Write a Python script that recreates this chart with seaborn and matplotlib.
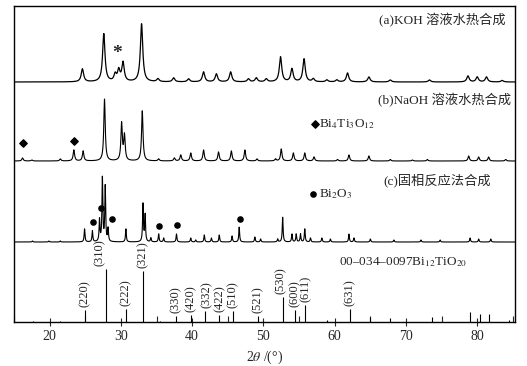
import numpy as np
import pandas as pd
import matplotlib
matplotlib.use("Agg")
import matplotlib.pyplot as plt
import seaborn as sns

sns.set_style("ticks")
plt.rcParams['font.family'] = ['Liberation Serif', 'Noto Sans CJK SC', 'DejaVu Sans']
plt.rcParams['mathtext.fontset'] = 'stix'

# peak positions (2theta) and heights
koh_pos = [24.6, 27.6, 29.2, 29.7, 30.3, 32.9, 35.2, 37.4, 39.5, 41.6, 43.4, 45.4, 47.9, 49.0, 50.4,
           52.4, 54.0, 55.7, 57.0, 58.9, 60.3, 61.8, 64.8, 67.8, 73.3, 78.7, 80.0, 81.3, 83.5]
koh_h = [13, 48, 7, 11, 19, 58, 3, 4, 3, 10, 8, 10, 3, 4, 3,
         25, 13, 23, 3, 2, 2, 9, 5, 2, 2, 6, 5, 5, 1.5]

naoh_pos = [16.2, 17.5, 21.5, 23.4, 24.7, 27.7, 30.1, 30.5, 33.0, 35.3, 37.5, 38.4, 39.8, 41.6, 43.7,
            45.5, 47.4, 49.1, 51.7, 52.5, 54.2, 55.8, 57.1, 60.4, 62.0, 64.8, 67.8, 70.9, 73.0,
            78.8, 80.2, 81.6, 84.0]
naoh_h = [3, 1, 2, 11, 10, 62, 37, 25, 50, 2, 3, 6, 8, 11, 9,
          10, 11, 2, 2, 12, 8, 8, 4, 1.5, 6, 5, 1.5, 1, 1.5,
          5, 4, 4, 1.5]

solid_pos = [17.6, 19.9, 21.5, 24.9, 26.0, 27.0, 27.4, 27.8, 28.2, 30.7, 33.1, 33.4, 34.2, 35.3, 36.0,
             37.8, 39.8, 40.5, 41.7, 42.7, 43.8, 45.6, 46.6, 48.8, 49.6, 52.0, 52.7, 54.0, 54.6,
             55.2, 55.8, 56.6, 58.2, 59.4, 62.0, 62.7, 65.0, 68.3, 72.1, 74.8, 79.0, 80.2, 81.9]
solid_h = [1, 1, 1, 13, 11, 22, 64, 55, 13, 13, 38, 27, 4, 8, 4,
           8, 4, 2, 7, 4, 7, 6, 15, 5, 3, 3, 25, 8, 8,
           8, 13, 4, 4, 3, 8, 4, 3, 2, 2, 2, 4, 3, 3]

# PDF 00-034-0097 Bi12TiO20 sticks
ref_pos = [24.9, 27.9, 30.7, 33.1, 37.7, 39.8, 41.8, 43.7, 45.7, 49.2, 52.7, 54.4, 55.9, 62.1]
ref_h = [12, 53, 13, 51, 6, 7, 11, 7, 11, 6, 25, 12, 17, 13]
ref_hkl = ['(220)', '(310)', '(222)', '(321)', '(330)', '(420)', '(332)', '(422)', '(510)',
           '(521)', '(530)', '(600)', '(611)', '(631)']
ref_label_dx = [0, -0.8, 0, 0, 0, 0, 0.2, 0.2, 0, 0, -0.2, 0, 0, 0]
ref_minor_pos = [17.6, 21.5, 35.5, 58.9, 65.0, 67.8, 73.7, 79.0, 80.4, 81.6, 84.4]
ref_minor_h = [1, 1, 1, 2, 5, 4, 5, 10, 8, 8, 2]

# phase markers
bto_pos = [16.2, 23.4]
bto_y = [179, 181]
bio_pos = [26.1, 27.2, 28.7, 35.4, 37.9, 46.7]
bio_y = [100, 114, 103, 96, 97, 103]

offsets = {'a': 240, 'b': 161, 'c': 80}
widths = {'a': 0.2, 'b': 0.12, 'c': 0.07}
line_w = {'a': 0.9, 'b': 0.8, 'c': 0.8}

two_theta = np.linspace(15, 85.3, 4000)


def profile(pos, h, hw):
    y = np.zeros_like(two_theta)
    for p, a in zip(pos, h):
        y += a / (1 + ((two_theta - p) / hw) ** 2)
    return y


fig = plt.figure(figsize=(5.27, 3.66), dpi=100)
ax = fig.add_axes([14 / 527, 1 - 322 / 366, 501 / 527, 316 / 366])

for key, pos, h in [('a', koh_pos, koh_h), ('b', naoh_pos, naoh_h), ('c', solid_pos, solid_h)]:
    df = pd.DataFrame({'tt': two_theta, 'I': profile(pos, h, widths[key]) + offsets[key]})
    sns.lineplot(x='tt', y='I', data=df, ax=ax, color='black', linewidth=line_w[key], estimator=None)

ax.vlines(ref_pos, 0, ref_h, color='black', linewidth=0.8)
ax.vlines(ref_minor_pos, 0, ref_minor_h, color='black', linewidth=0.8)
for p, h, lab, dx in zip(ref_pos, ref_h, ref_hkl, ref_label_dx):
    ax.text(p + dx, h + 3, lab, rotation=90, ha='center', va='bottom', fontsize=9)

ax.scatter(bto_pos, bto_y, marker='D', s=14, color='black', zorder=3)
ax.scatter(bio_pos, bio_y, marker='o', s=14, color='black', zorder=3)
ax.text(29.4, 268, '*', fontsize=14, ha='center', va='center', fontweight='bold')

# legends / labels
ax.scatter([57.2], [198], marker='D', s=14, color='black')
ax.text(57.8, 198, 'Bi$_4$Ti$_3$O$_{12}$', fontsize=9.5, va='center')
ax.scatter([57.0], [128], marker='o', s=14, color='black')
ax.text(57.8, 128, 'Bi$_2$O$_3$', fontsize=9.5, va='center')
ax.text(84.0, 302, '(a)KOH 溶液水热合成', fontsize=9.5, ha='right', va='center')
ax.text(84.8, 222, '(b)NaOH 溶液水热合成', fontsize=9.5, ha='right', va='center')
ax.text(82.0, 142, '(c)固相反应法合成', fontsize=9.5, ha='right', va='center')
ax.text(60.6, 60, '00–034–0097Bi$_{12}$TiO$_{20}$', fontsize=9.5, va='center')

ax.set_xlim(15.1, 85.3)
ax.set_ylim(0, 316)
ax.set_xticks(np.arange(20, 81, 10))
ax.set_xticks(np.arange(15, 86, 5), minor=True)
ax.set_yticks([])
ax.tick_params(axis='x', which='major', direction='inout', length=6, width=0.8, labelsize=10, pad=3)
ax.tick_params(axis='x', which='minor', direction='in', length=4, width=0.8)
for s in ax.spines.values():
    s.set_visible(True)
    s.set_linewidth(1.0)
    s.set_color('black')
ax.set_xlabel('2$\\theta$ /(°)', fontsize=10, labelpad=4)
ax.set_ylabel('')

plt.savefig('out.png', dpi=100)
